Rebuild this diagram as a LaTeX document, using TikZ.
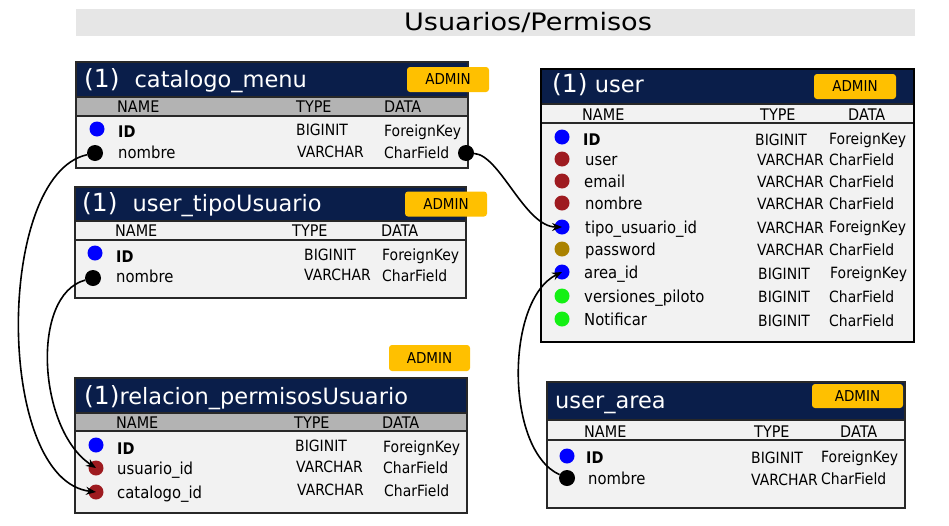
\documentclass[tikz,border=0pt]{standalone}
\usepackage{fontspec}
\setmainfont{DejaVu Sans}[FakeStretch=0.9]
\newfontfamily\hfont{DejaVu Sans}
\newfontfamily\tfont{DejaVu Sans}[FakeStretch=1.13]
\usetikzlibrary{arrows.meta}
\definecolor{navy}{RGB}{10,30,74}
\definecolor{barc}{RGB}{230,230,230}
\definecolor{subgray}{RGB}{179,179,179}
\definecolor{bodyc}{RGB}{242,242,242}
\definecolor{bord}{RGB}{40,40,40}
\definecolor{adminc}{RGB}{255,192,0}
\definecolor{dred}{RGB}{158,27,32}
\definecolor{dgold}{RGB}{170,130,0}
\definecolor{dgreen}{RGB}{20,240,20}
\definecolor{dblue}{RGB}{0,0,255}
\tikzset{
  fs/.style={font=\fontsize{#1}{#1}\selectfont},
  tbody/.style={fill=bodyc},
  tframe/.style={draw=bord, line width=1.5pt},
  thead/.style={fill=navy},
  subg/.style={fill=subgray, draw=bord, line width=1.2pt},
  subl/.style={fill=bodyc, draw=bord, line width=1.2pt},
  ttl/.style={anchor=base west, yshift=-8pt, inner sep=0, text=white, font=\hfont\fontsize{22.5}{22.5}\selectfont},
  col/.style={anchor=base west, yshift=-6.3pt, inner sep=0, fs=16},
  nm/.style={anchor=base west, yshift=-6.5pt, inner sep=0, fs=16.5},
  idt/.style={anchor=base west, yshift=-7pt, inner sep=0, font=\fontsize{16}{16}\selectfont\bfseries},
  ty/.style={anchor=base west, yshift=-6.5pt, inner sep=0, fs=15.5},
  admin/.style={fill=adminc, rounded corners=3pt, inner sep=0, minimum width=82, minimum height=25, fs=15},
  dot/.style={circle, inner sep=0, minimum size=15, fill=#1},
  bdot/.style={circle, inner sep=0, minimum size=16, fill=black},
  conn/.style={draw=black, line width=1.6pt, -{Stealth[length=10pt,width=8pt]}},
}
\newcommand{\one}{{\fontsize{25}{25}\selectfont(1)}}
\begin{document}
\begin{tikzpicture}[x=1pt,y=-1pt]
\useasboundingbox (0,0) rectangle (949,525);
\fill[white] (0,0) rectangle (949,525);

% title bar
\fill[barc] (76,9) rectangle (915,36);
\node[anchor=base, inner sep=0, font=\tfont\fontsize{24}{24}\selectfont] (title) at (528,30) {Usuarios/Permisos};

% ---------- catalogo_menu ----------
\fill[tbody] (76,62) rectangle (468,168);
\fill[thead] (76,62) rectangle (468,97);
\path[subg] (76,97) rectangle (468,116);
\draw[tframe] (76,62) rectangle (468,168);
\node[admin] (adm1) at (448,79.5) {ADMIN};
\node[ttl] (cmT) at (84,79) {\one\hspace{15pt}catalogo\_menu};
\node[col] (cmN) at (117,106) {NAME};
\node[col] (cmTy) at (296,106) {TYPE};
\node[col] (cmD) at (384,106) {DATA};
\node[dot=dblue] (cm1) at (97,129) {};
\node[bdot] (cm2) at (95,153) {};
\node[idt] (cmn1) at (118,130) {ID};
\node[nm] (cmn2) at (118,152) {nombre};
\node[ty] (cmt1) at (296,129) {BIGINIT};
\node[ty] (cmt2) at (297,151) {VARCHAR};
\node[ty] (cmd1) at (384,130) {ForeignKey};
\node[ty] (cmd2) at (384,152) {CharField};
\node[bdot] (cmR) at (466,153) {};

% ---------- user_tipoUsuario ----------
\fill[tbody] (75,187) rectangle (466,298);
\fill[thead] (75,187) rectangle (466,221);
\path[subl] (75,221) rectangle (466,240);
\draw[tframe] (75,187) rectangle (466,298);
\node[admin] (adm2) at (446,204) {ADMIN};
\node[ttl] (tuT) at (82,203) {\one\hspace{15pt}user\_tipoUsuario};
\node[col] (tuN) at (115,230) {NAME};
\node[col] (tuTy) at (292,230) {TYPE};
\node[col] (tuD) at (381,230) {DATA};
\node[dot=dblue] (tu1) at (95,253) {};
\node[bdot] (tu2) at (93,278) {};
\node[idt] (tun1) at (116,255) {ID};
\node[nm] (tun2) at (116,276) {nombre};
\node[ty] (tut1) at (304,254) {BIGINIT};
\node[ty] (tut2) at (304,274) {VARCHAR};
\node[ty] (tud1) at (382,254) {ForeignKey};
\node[ty] (tud2) at (382,275) {CharField};

% ---------- relacion_permisosUsuario ----------
\node[admin, minimum width=81, minimum height=26] (adm3) at (429.5,358) {ADMIN};
\fill[tbody] (75,378) rectangle (467,513);
\fill[thead] (75,378) rectangle (467,413);
\path[subg] (75,413) rectangle (467,431);
\draw[tframe] (75,378) rectangle (467,513);
\node[ttl] (rpT) at (84,396) {\one relacion\_permisosUsuario};
\node[col] (rpN) at (116,422) {NAME};
\node[col] (rpTy) at (294,422) {TYPE};
\node[col] (rpD) at (382,422) {DATA};
\node[dot=dblue] (rp1) at (96,445) {};
\node[dot=dred] (rp2) at (96,468) {};
\node[dot=dred] (rp3) at (96,492) {};
\node[idt] (rpn1) at (117,447) {ID};
\node[nm] (rpn2) at (117,468) {usuario\_id};
\node[nm] (rpn3) at (117,492) {catalogo\_id};
\node[ty] (rpt1) at (295,445) {BIGINIT};
\node[ty] (rpt2) at (296,466) {VARCHAR};
\node[ty] (rpt3) at (297,489) {VARCHAR};
\node[ty] (rpd1) at (383,446) {ForeignKey};
\node[ty] (rpd2) at (383,467) {CharField};
\node[ty] (rpd3) at (384,490) {CharField};

% ---------- user ----------
\fill[tbody] (541,69) rectangle (914,342);
\fill[thead] (541,69) rectangle (914,104);
\path[subl] (541,104) rectangle (914,123);
\draw[draw=black, line width=2.5pt] (541,69) rectangle (914,342);
\node[admin] (adm4) at (855,86.5) {ADMIN};
\node[ttl] (usT) at (552,84) {\one\ user};
\node[col] (usN) at (582,114) {NAME};
\node[col] (usTy) at (760,114) {TYPE};
\node[col] (usD) at (848,114) {DATA};
\node[dot=dblue]  (u1) at (562,137) {};
\node[dot=dred]   (u2) at (562,159) {};
\node[dot=dred]   (u3) at (562,181) {};
\node[dot=dred]   (u4) at (562,203) {};
\node[dot=dblue]  (u5) at (562,227) {};
\node[dot=dgold]  (u6) at (562,249) {};
\node[dot=dblue]  (u7) at (562,272) {};
\node[dot=dgreen] (u8) at (562,296) {};
\node[dot=dgreen] (u9) at (562,319) {};
\node[idt] (un1) at (583,138) {ID};
\node[nm] (un2) at (585,159) {user};
\node[nm] (un3) at (584,181) {email};
\node[nm] (un4) at (585,203) {nombre};
\node[nm] (un5) at (585,227) {tipo\_usuario\_id};
\node[nm] (un6) at (585,249) {password};
\node[nm] (un7) at (584,272) {area\_id};
\node[nm] (un8) at (584,296) {versiones\_piloto};
\node[nm] (un9) at (584,319) {Notificar};
\node[ty] (ut1) at (755,139) {BIGINIT};
\node[ty] (ut2) at (757,159) {VARCHAR};
\node[ty] (ut3) at (757,181) {VARCHAR};
\node[ty] (ut4) at (757,203) {VARCHAR};
\node[ty] (ut5) at (757,227) {VARCHAR};
\node[ty] (ut6) at (757,249) {VARCHAR};
\node[ty] (ut7) at (758,273) {BIGINIT};
\node[ty] (ut8) at (758,296) {BIGINIT};
\node[ty] (ut9) at (758,320) {BIGINIT};
\node[ty] (ud1) at (829,138) {ForeignKey};
\node[ty] (ud2) at (829,159) {CharField};
\node[ty] (ud3) at (829,181) {CharField};
\node[ty] (ud4) at (829,203) {CharField};
\node[ty] (ud5) at (829,226) {ForeignKey};
\node[ty] (ud6) at (829,249) {CharField};
\node[ty] (ud7) at (830,272) {ForeignKey};
\node[ty] (ud8) at (829,296) {CharField};
\node[ty] (ud9) at (829,320) {CharField};

% ---------- user_area ----------
\fill[tbody] (547,382) rectangle (905,508);
\fill[thead] (547,382) rectangle (905,420);
\path[subl] (547,420) rectangle (905,440);
\draw[tframe] (547,382) rectangle (905,508);
\node[admin, minimum width=91, minimum height=24] (adm5) at (857.5,396) {ADMIN};
\node[ttl] (uaT) at (555,400) {user\_area};
\node[col] (uaN) at (584,431) {NAME};
\node[col] (uaTy) at (754,431) {TYPE};
\node[col] (uaD) at (840,431) {DATA};
\node[dot=dblue] (ua1) at (567,456) {};
\node[bdot] (ua2) at (567,478) {};
\node[idt] (uan1) at (586,456) {ID};
\node[nm] (uan2) at (588,478) {nombre};
\node[ty] (uat1) at (751,457) {BIGINIT};
\node[ty] (uat2) at (751,479) {VARCHAR};
\node[ty] (uad1) at (821,456) {ForeignKey};
\node[ty] (uad2) at (821,478) {CharField};

% ---------- connectors ----------
\draw[conn] (cm2) .. controls (-5,175) and (-5,480) .. (rp3.center);
\draw[conn] (tu2) .. controls (30,295) and (38,430) .. (rp2.center);
\draw[conn] (cmR) .. controls (500,155) and (525,227) .. (u5.center);
\draw[conn] (ua2) .. controls (505,450) and (505,300) .. (u7.center);
\end{tikzpicture}
\end{document}
